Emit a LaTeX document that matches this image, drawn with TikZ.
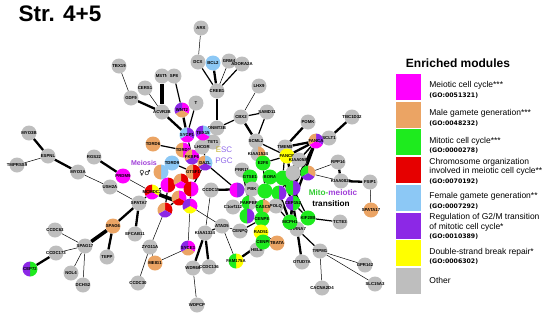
\documentclass[tikz,border=0pt]{standalone}
\usepackage{fontspec}
\setmainfont{Liberation Sans}
\newfontfamily\gofont{DejaVu Sans}
\newfontfamily\signfont{DejaVu Sans}
\usetikzlibrary{backgrounds}
\definecolor{modmag}{HTML}{FF00FF}
\definecolor{modorg}{HTML}{EBA464}
\definecolor{modgrn}{HTML}{1EEB1E}
\definecolor{modred}{HTML}{E60000}
\definecolor{modblu}{HTML}{8CC8F5}
\definecolor{modpur}{HTML}{8C28E6}
\definecolor{modyel}{HTML}{FFFF00}
\definecolor{modgry}{HTML}{BEBEBE}
\definecolor{meiocol}{HTML}{A040D8}
\definecolor{esccol}{HTML}{C2B02A}
\definecolor{pgccol}{HTML}{8F68E8}
\definecolor{mitocol}{HTML}{33CC33}

\tikzset{
  gene/.style={circle, fill=modgry, minimum size=15pt, inner sep=0pt},
  genetext/.style={inner sep=0pt, font=\fontsize{4.3}{5}\selectfont\bfseries},
  wk/.style={line width=0.5pt},
  md/.style={line width=1.2pt},
  st/.style={line width=2.3pt},
  xst/.style={line width=3.6pt},
  swatch/.style={minimum width=25pt, minimum height=26pt, inner sep=0pt},
  modtext/.style={anchor=west, inner sep=0pt, align=left,
                  font=\fontsize{8.5}{9.5}\selectfont},
}
\newcommand{\gene}[4][modgry]{%
  \node[gene, fill=#1] (#2) at (#3) {};
  \node[genetext] at (#2) {#4};}
\newcommand{\genepie}[5]{%
  \node[gene, fill=none] (#2) at (#1) {};
  \foreach \c [count=\i] in {#5}{%
    \fill[\c] (#2.center) -- ++({90-(\i-1)*360/#4}:7.5pt)
      arc[start angle={90-(\i-1)*360/#4}, end angle={90-\i*360/#4}, radius=7.5pt] -- cycle;}
  \node[genetext] at (#2) {#3};}

\begin{document}
\begin{tikzpicture}[x=1pt, y=-1pt]
  \useasboundingbox (0,0) rectangle (550,317);
  \node[anchor=west, font=\fontsize{22.5}{24}\selectfont\bfseries] (title) at (15,14) {Str. 4+5};

  % outer genes
  \gene{arx}{201,28}{ARX}
  \gene{dcx}{198,62}{DCX}
  \gene[modblu]{bcl}{213,63}{BCL2}
  \gene{grm}{229,61}{GRM4}
  \gene{adora}{242,64}{ADORA2A}
  \gene{creb}{217,91}{CREB1}
  \gene{tbx}{119,66}{TBX19}
  \gene{mstn}{162,76}{MSTN}
  \gene{speight}{174,76}{SP8}
  \gene{cers}{145,88}{CERS1}
  \gene{gdf}{131,98}{GDF9}
  \gene{acvr}{162,112}{ACVR2B}
  \genepie{182,110}{wnt}{WNT2}{3}{modmag,modorg,modpur}
  \gene{tbra}{196,103}{T}
  \gene{lhx}{259,86}{LHX9}
  \gene{cbx}{241,117}{CBX2}
  \gene{samd}{267,112}{SAMD11}
  \gene{dnmt}{217,128}{DNMT3B}
  \gene{tet}{213,142}{TET1}
  \gene{scml}{256,141}{SCML2}
  \gene{tmem}{285,147}{TMEM8}
  \gene{pomk}{308,122}{POMK}
  \gene{sclt}{329,138}{SCLT1}
  \genepie{316,141}{fanca}{FANCA}{3}{modpur,modmag,modorg}
  \gene[modyel]{fancb}{287,156}{FANCB}
  \gene{tbc}{352,117}{TBC1D32}
  \gene{rpp}{338,162}{RPP14}
  \gene{kiaab}{341,181}{KIAA0825}
  \gene{fsip}{370,182}{FSIP1}
  \gene[modorg]{spatb}{371,210}{SPATA17}
  \gene{kiaac}{299,160}{KIAA0586}
  \gene{tcte}{340,222}{TCTE3}
  \gene{chrna}{297,229}{CHRNA7}
  \gene{otud}{302,262}{OTUD7A}
  \gene{trpm}{320,251}{TRPM1}
  \gene{cacna}{322,288}{CACNA2D4}
  \gene{gpr}{365,265}{GPR142}
  \gene{slc}{375,284}{SLC15A3}
  \gene{helb}{257,250}{HELB}
  \gene{cenpq}{240,231}{CENPQ}
  \gene{atad}{222,226}{ATAD5}
  \gene{kiaad}{205,233}{KIAA1324}
  \gene{wdr}{193,268}{WDR66}
  \gene{ccdcb}{209,267}{CCDC136}
  \gene{wdpcp}{197,305}{WDPCP}
  \gene{ccdca}{211,190}{CCDC15}
  \genepie{188,248}{syce}{SYCE3}{3}{modmag,modorg,modpur}
  \gene[modorg]{meig}{155,263}{MEIG1}
  \gene{zyg}{150,247}{ZYG11A}
  \gene{ccdcc}{138,283}{CCDC30}
  \gene{efcab}{135,234}{EFCAB11}
  \gene{spata}{139,203}{SPATA7}
  \gene[modorg]{spagsix}{113,226}{SPAG6}
  \gene{tepp}{107,257}{TEPP}
  \gene{spagsev}{85,246}{SPAG17}
  \gene{ccdcd}{55,230}{CCDC63}
  \gene{ccdce}{56,253}{CCDC173}
  \genepie{30,269}{cep}{CEP72}{2}{modgrn,modpur}
  \gene{nol}{71,273}{NOL4}
  \gene{dchs}{83,285}{DCHS2}
  \gene{ush}{110,187}{USH2A}
  \gene{myoa}{78,172}{MYO3A}
  \gene{rgs}{94,157}{RGS22}
  \gene[modmag]{prdm}{123,176}{PRDM9}
  \gene{espnl}{48,156}{ESPNL}
  \gene{tmprss}{17,165}{TMPRSS9}
  \gene{myob}{29,133}{MYO3B}

  % meiosis cluster
  \gene[modorg]{tdrdsix}{153,144}{TDRD6}
  \genepie{161,172}{hmg}{}{2}{modblu,modorg}
  \gene[modblu]{tdrdnine}{172,163}{TDRD9}
  \genepie{183,150}{tdrdone}{TDRD1}{2}{modmag,modorg}
  \genepie{192,157}{fkbp}{FKBP6}{3}{modmag,modpur,modorg}
  \gene{lhcgr}{202,147}{LHCGR}
  \genepie{187,135}{sycp}{SYCP1}{3}{modpur,modmag,modblu}
  \genepie{203,133}{tex}{TEX15}{3}{modblu,modmag,modpur}
  \genepie{205,163}{dazl}{DAZL}{3}{modblu,modpur,modorg}
  \genepie{193,172}{gtsf}{GTSF1}{2}{modred,modorg}
  \genepie{168,185}{hma}{}{2}{modred,modmag}
  \genepie{181,181}{hmb}{}{3}{modred,modmag,modorg}
  \genepie{191,189}{hmc}{}{2}{modmag,modred}
  \genepie{179,198}{hmd}{}{3}{modmag,modred,modorg}
  \genepie{165,210}{hme}{}{3}{modred,modpur,modorg}
  \genepie{152,192}{mcm}{MCMDC2}{3}{modyel,modmag,modred}
  \genepie{190,206}{hmf}{}{3}{modmag,modyel,modpur}

  % mitotic cluster
  \genepie{258,154}{kiaae}{KIAA1524}{2}{modorg,modgry}
  \gene{prr}{242,170}{PRR11}
  \gene[modgrn]{efeight}{263,163}{E2F8}
  \gene[modgrn]{gtse}{250,177}{GTSE1}
  \gene[modgrn]{bora}{270,177}{BORA}
  \gene[modgrn]{gd}{283,178}{}
  \genepie{237,190}{pa}{}{2}{modpur,modmag}
  \gene{pbk}{252,189}{PBK}
  \gene[modgrn]{gc}{265,191}{}
  \genepie{279,193}{pb}{}{2}{modpur,modgrn}
  \gene{polq}{276,206}{POLQ}
  \gene{cone}{233,207}{C1orf112}
  \genepie{249,203}{parp}{PARPBP}{2}{modgry,modgrn}
  \genepie{263,207}{casc}{CASC5}{2}{modorg,modgrn}
  \genepie{247,216}{pc}{}{2}{modpur,modgrn}
  \gene[modgrn]{cenpe}{262,219}{CENPE}
  \gene{cnf}{293,173}{}
  \genepie{308,173}{fancc}{}{3}{modorg,modpur,modgrn}
  \genepie{293,188}{pd}{}{2}{modpur,modgrn}
  \genepie{293,203}{cepone}{CEP152}{2}{modgrn,modpur}
  \gene[modgrn]{mcph}{290,222}{MCPH1}
  \gene[modgrn]{kif}{308,218}{KIF20B}
  \gene[modyel]{rad}{261,232}{RAD51}
  \gene[modgrn]{cenpi}{263,242}{CENPI}
  \gene[modorg]{tbata}{277,243}{TBATA}
  \genepie{236,261}{fam}{FAM175A}{2}{modyel,modgrn}

  \begin{scope}[on background layer]
    \draw[wk] (tbx) -- (gdf);
    \draw[wk] (cers) -- (acvr);
    \draw[st] (gdf) -- (acvr);
    \draw[xst] (mstn) -- (acvr);
    \draw[md] (speight) -- (wnt);
    \draw[st] (acvr) -- (sycp);
    \draw[st] (wnt) -- (sycp);
    \draw[md] (tbra) -- (sycp);
    \draw[wk] (arx) -- (dcx);
    \draw[md] (dcx) -- (creb);
    \draw[st] (bcl) -- (creb);
    \draw[wk] (grm) -- (creb);
    \draw[md] (adora) -- (creb);
    \draw[st] (creb) -- (dnmt);
    \draw[md] (dnmt) -- (cbx);
    \draw[md] (dnmt) -- (tex);
    \draw[md] (tet) -- (dnmt);
    \draw[wk] (lhx) -- (cbx);
    \draw[md] (cbx) -- (samd);
    \draw[st] (cbx) -- (scml);
    \draw[md] (samd) -- (scml);
    \draw[md] (scml) -- (fancb);
    \draw[md] (scml) -- (kiaae);
    \draw[st] (tmem) -- (pomk);
    \draw[st] (tmem) -- (fanca);
    \draw[st] (fancb) -- (fanca);
    \draw[wk] (tmem) -- (fancb);
    \draw[wk] (sclt) -- (fanca);
    \draw[st] (sclt) -- (tbc);
    \draw[md] (kiaac) -- (fanca);
    \draw[st] (fanca) -- (pd);
    \draw[st] (fanca) -- (cepone);
    \draw[md] (fanca) -- (gd);
    \draw[st] (rpp) -- (kiaab);
    \draw[st] (kiaab) -- (fsip);
    \draw[wk] (rpp) -- (fancc);
    \draw[wk] (kiaab) -- (fancc);
    \draw[wk] (fsip) -- (spatb);
    \draw[md] (kif) -- (tcte);
    \draw[st] (mcph) -- (chrna);
    \draw[st] (chrna) -- (otud);
    \draw[md] (chrna) -- (trpm);
    \draw[wk] (trpm) -- (gpr);
    \draw[wk] (trpm) -- (cacna);
    \draw[wk] (trpm) -- (slc);
    \draw[st] (myob) -- (espnl);
    \draw[wk] (tmprss) -- (espnl);
    \draw[st] (espnl) -- (myoa);
    \draw[wk] (myoa) -- (ush);
    \draw[st] (rgs) -- (prdm);
    \draw[wk] (prdm) -- (mcm);
    \draw[wk] (spata) -- (ush);
    \draw[md] (spata) -- (mcm);
    \draw[st] (spata) -- (spagsix);
    \draw[st] (spata) -- (efcab);
    \draw[xst] (spagsix) -- (spagsev);
    \draw[st] (spagsix) -- (tepp);
    \draw[wk] (ccdcd) -- (spagsev);
    \draw[wk] (ccdce) -- (spagsev);
    \draw[st] (ccdce) -- (cep);
    \draw[wk] (nol) -- (spagsev);
    \draw[wk] (dchs) -- (spagsev);
    \draw[wk] (zyg) -- (ccdcc);
    \draw[wk] (zyg) -- (hme);
    \draw[wk] (meig) -- (zyg);
    \draw[wk] (meig) -- (syce);
    \draw[wk] (syce) -- (hmf);
    \draw[md] (tdrdsix) -- (tdrdone);
    \draw[md] (tdrdone) -- (fkbp);
    \draw[md] (sycp) -- (fkbp);
    \draw[md] (tex) -- (dazl);
    \draw[md] (tdrdnine) -- (gtsf);
    \draw[md] (hmg) -- (tdrdnine);
    \draw[md] (fkbp) -- (gtsf);
    \draw[md] (gtsf) -- (dazl);
    \draw[wk] (lhcgr) -- (tet);
    \draw[md] (hma) -- (hmb);
    \draw[md] (hmb) -- (hmc);
    \draw[md] (hmc) -- (hmd);
    \draw[md] (hmd) -- (hme);
    \draw[md] (hma) -- (hme);
    \draw[md] (hmc) -- (hmf);
    \draw[md] (hma) -- (mcm);
    \draw[md] (gtsf) -- (hmb);
    \draw[md] (dazl) -- (hmc);
    \draw[xst] (mcm) -- (hmf);
    \draw[md] (dazl) -- (pa);
    \draw[st] (ccdca) -- (pbk);
    \draw[wk] (ccdca) -- (kiaad);
    \draw[md] (atad) -- (kiaad);
    \draw[wk] (atad) -- (cenpq);
    \draw[wk] (atad) -- (fam);
    \draw[wk] (atad) -- (hmf);
    \draw[st] (kiaad) -- (wdr);
    \draw[st] (kiaad) -- (ccdcb);
    \draw[wk] (wdpcp) -- (wdr);
    \draw[wk] (helb) -- (cenpi);
    \draw[st] (fam) -- (cenpi);
    \draw[wk] (tbata) -- (rad);
    \draw[st] (cenpe) -- (rad);
    \draw[md] (cenpe) -- (cenpq);
    \draw[md] (casc) -- (cenpe);
    \draw[md] (fancb) -- (efeight);
    \draw[st] (fancb) -- (pd);
    \draw[md] (tmem) -- (gd);
    \draw[st] (gd) -- (cepone);
    \draw[st] (kiaac) -- (pd);
    \draw[st] (kiaac) -- (mcph);
    \draw[st] (bora) -- (pd);
    \draw[st] (pb) -- (mcph);
    \draw[st] (cepone) -- (mcph);
    \draw[md] (pd) -- (kif);
    \draw[md] (cepone) -- (kif);
    \draw[st] (cepone) -- (chrna);
    \draw[md] (cnf) -- (cepone);
    \draw[md] (gc) -- (cenpe);
    \draw[md] (efeight) -- (gc);
    \draw[md] (gtse) -- (pc);
    \draw[md] (prr) -- (parp);
    \draw[md] (cnf) -- (pb);
    \draw[md] (polq) -- (mcph);
  \end{scope}

  % cluster labels
  \node[font=\fontsize{7}{8}\selectfont\bfseries, text=meiocol] (meiosis) at (144,163) {Meiosis};
  \node[font=\signfont\fontsize{7}{8}\selectfont] (sexes) at (145,173) {♀♂};
  \node[font=\fontsize{8}{9}\selectfont] (esc) at (224,150) {\textcolor{esccol}{E}\textcolor{pgccol}{SC}};
  \node[font=\fontsize{8}{9}\selectfont, text=pgccol] (pgc) at (224,161) {PGC};
  \node[font=\fontsize{8.2}{9}\selectfont\bfseries] (mito) at (333,193) {\textcolor{mitocol}{Mito-}\textcolor{meiocol}{meiotic}};
  \node[font=\fontsize{8.2}{9}\selectfont\bfseries] (trans) at (331,204) {transition};

  % legend
  \node[font=\fontsize{12}{14}\selectfont\bfseries] (legtitle) at (458,63) {Enriched modules};
  \foreach \col/\txt/\go/\dy [count=\i] in {
      modmag/{Meiotic cell cycle***}/{(GO:0051321)}/-3,
      modorg/{Male gamete generation***}/{(GO:0048232)}/-3,
      modgrn/{Mitotic cell cycle***}/{(GO:0000278)}/-3,
      modred/{Chromosome organization\\involved in meiotic cell cycle**}/{(GO:0070192)}/-1,
      modblu/{Female gamete generation**}/{(GO:0007292)}/-3,
      modpur/{Regulation of G2/M transition\\of mitotic cell cycle*}/{(GO:0010389)}/-1,
      modyel/{Double-strand break repair*}/{(GO:0006302)}/-3}{
    \node[swatch, fill=\col] (sw\i) at (408.5, {87+27.7*(\i-1)}) {};
    \node[modtext] (lt\i) at ([xshift=8pt, yshift=\dy pt]sw\i.east)
      {\txt\\{\gofont\bfseries\fontsize{6.2}{7}\selectfont\go}};
  }
  \node[swatch, fill=modgry] (sw8) at (408.5, {87+27.7*7}) {};
  \node[modtext] (lt8) at ([xshift=8pt]sw8.east) {Other};
\end{tikzpicture}
\end{document}
